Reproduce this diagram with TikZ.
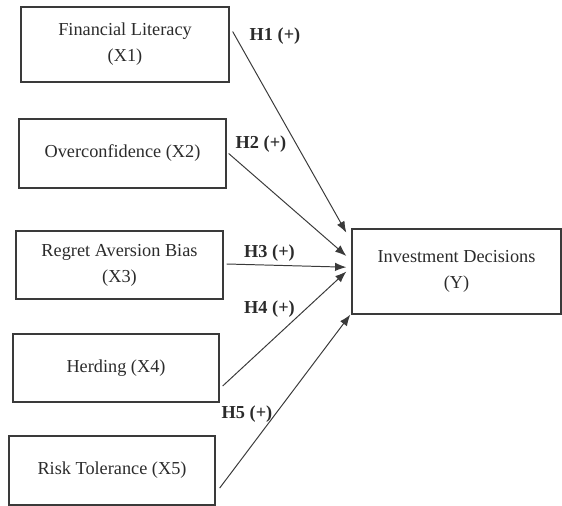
\documentclass[tikz,border=0pt]{standalone}
\usepackage{fontspec}
\setmainfont{Liberation Serif}
\usetikzlibrary{arrows.meta, positioning, calc}
\definecolor{boxgrey}{HTML}{3A3A3A}
\definecolor{textgrey}{HTML}{2B2B2B}

\begin{document}
\begin{tikzpicture}[x=0.025cm, y=-0.025cm,
    var/.style={draw=boxgrey, line width=0.9pt, align=center, inner sep=0pt,
                text=textgrey, font=\fontsize{13}{18.4}\selectfont},
    hyp/.style={text=textgrey, font=\fontsize{13}{15}\selectfont\bfseries},
    link/.style={draw=boxgrey, line width=0.7pt, -{Latex[length=8pt, width=6pt]}}]
    \useasboundingbox (0,0) rectangle (562,506);
    % Independent variables
    \node[var, minimum width=5.2cm, minimum height=1.875cm] (x1) at (125,44.5)
         {Financial Literacy\\(X1)};
    \node[var, minimum width=5.175cm, minimum height=1.725cm] (x2) at (122.5,153.5)
         {Overconfidence (X2)};
    \node[var, minimum width=5.175cm, minimum height=1.7cm] (x3) at (119.5,265)
         {Regret Aversion Bias\\(X3)};
    \node[var, minimum width=5.15cm, minimum height=1.7cm] (x4) at (116,368)
         {Herding (X4)};
    \node[var, minimum width=5.15cm, minimum height=1.725cm] (x5) at (112,470.5)
         {Risk Tolerance (X5)};
    % Dependent variable
    \node[var, minimum width=5.225cm, minimum height=2.125cm] (y) at (456.5,271.5)
         {Investment Decisions\\(Y)};
    % Paths
    \draw[link] ($(x1.north east)!0.33!(x1.south east)+(3,0)$)
             -- ($(y.north west)!0.05!(y.south west)+(-5,0)$);
    \draw[link] ($(x2.east)+(2,0)$)
             -- ($(y.north west)!0.32!(y.south west)+(-5,0)$);
    \draw[link] ($(x3.east)+(3,-1)$)
             -- ($(y.north west)!0.45!(y.south west)+(-5,0)$);
    \draw[link] ($(x4.north east)!0.76!(x4.south east)+(3,0)$)
             -- ($(y.north west)!0.5!(y.south west)+(-5,0)$);
    \draw[link] ($(x5.north east)!0.75!(x5.south east)+(4,0)$)
             -- ($(y.south west)+(-1,0)$);
    % Hypotheses
    \node[hyp] (h1) at (275,36) {H1 (+)};
    \node[hyp] (h2) at (261,144) {H2 (+)};
    \node[hyp] (h3) at (269.5,253) {H3 (+)};
    \node[hyp] (h4) at (269.5,309) {H4 (+)};
    \node[hyp] (h5) at (247,414) {H5 (+)};
\end{tikzpicture}
\end{document}
